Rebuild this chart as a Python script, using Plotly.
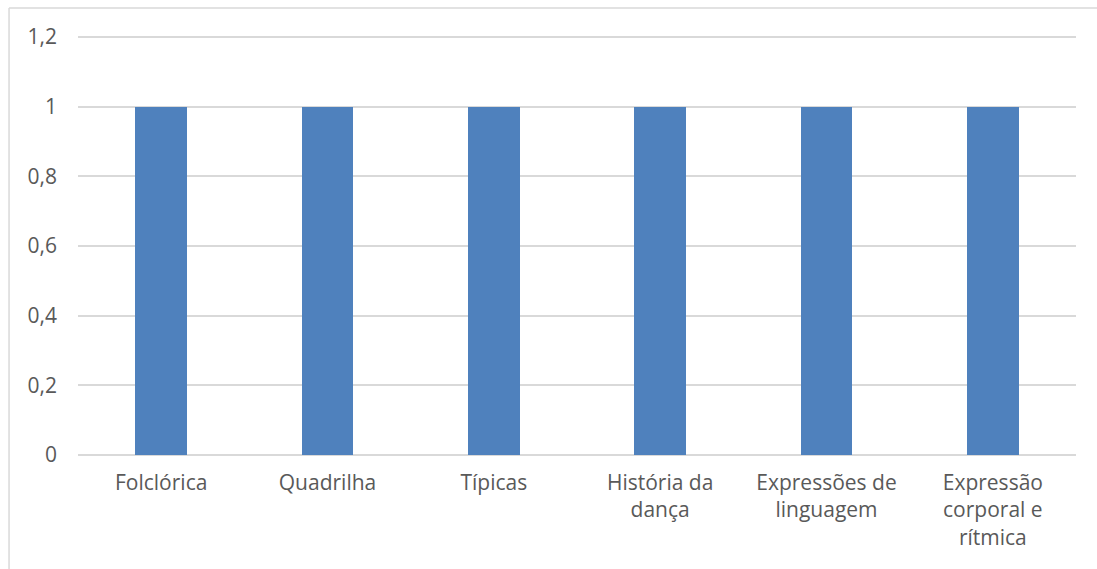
import plotly.graph_objects as go

# Conteúdos de dança e quantidade de menções
categorias = [
    "Folclórica",
    "Quadrilha",
    "Típicas",
    "História da<br>dança",
    "Expressões de<br>linguagem",
    "Expressão<br>corporal e<br>rítmica",
]
valores = [1, 1, 1, 1, 1, 1]
ticks_y = [0, 0.2, 0.4, 0.6, 0.8, 1, 1.2]

FONTE = "Open Sans"
CINZA_TEXTO = "#595959"
CINZA_GRADE = "#D9D9D9"

fig = go.Figure(
    go.Bar(
        x=categorias,
        y=valores,
        marker=dict(color="#4F81BD", line=dict(width=0)),
        width=0.31,
    )
)

# Folga acima de 1,2 para que a linha de grade superior seja desenhada
fig.update_layout(
    width=1097,
    height=569,
    margin=dict(l=78, r=21, t=34, b=114),
    paper_bgcolor="white",
    plot_bgcolor="white",
    separators=", ",
    showlegend=False,
    font=dict(family=FONTE, size=21, color=CINZA_TEXTO),
    bargap=0,
)

fig.update_yaxes(
    range=[0, 1.2086],
    tickvals=ticks_y,
    showgrid=True,
    gridcolor=CINZA_GRADE,
    gridwidth=1.5,
    zeroline=True,
    zerolinecolor=CINZA_GRADE,
    zerolinewidth=1.5,
    showline=False,
    ticks="",
    ticklabelstandoff=20,
    tickfont=dict(family=FONTE, size=21, color=CINZA_TEXTO),
)

fig.update_xaxes(
    showgrid=False,
    showline=False,
    ticks="",
    ticklabelstandoff=13,
    tickfont=dict(family=FONTE, size=21, color=CINZA_TEXTO),
)

# Moldura da área do gráfico (visível à esquerda e no topo)
fig.add_shape(
    type="line", xref="paper", yref="paper",
    x0=-0.0691, x1=1.05, y0=1.0618, y1=1.0618,
    line=dict(color=CINZA_GRADE, width=1.5),
)
fig.add_shape(
    type="line", xref="paper", yref="paper",
    x0=-0.0691, x1=-0.0691, y0=1.0618, y1=-0.35,
    line=dict(color=CINZA_GRADE, width=1.5),
)

fig.write_html("out.html")
